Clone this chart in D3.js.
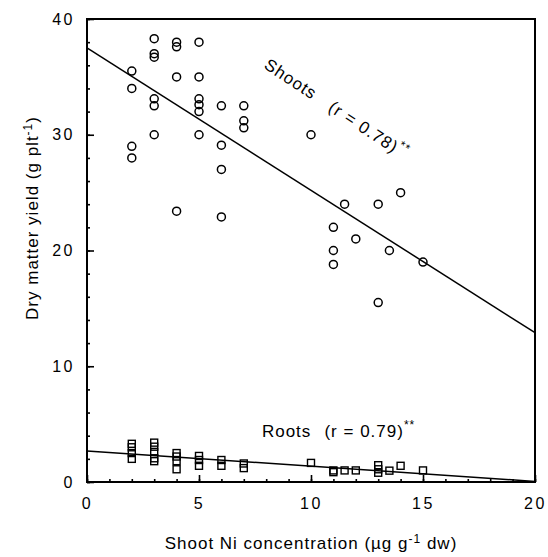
<!DOCTYPE html>
<html lang="en">
<head>
  <meta charset="UTF-8">
  <title>Dry matter yield vs shoot Ni</title>
  <script src="https://d3js.org/d3.v7.min.js"></script>
  <style>
    body { margin: 0; background: #fff; }
    text { font-family: "Liberation Sans", Arial, sans-serif; fill: #000; }
    .tick-label { font-size: 16px; letter-spacing: 2.5px; }
    .axis-title { font-size: 17px; letter-spacing: 1px; }
    .series-label { font-size: 17px; letter-spacing: 1px; }
  </style>
</head>
<body>
  <div id="chart"></div>
  <script>
    // shoots (circles)
    const shootX = [2, 2, 2, 2, 3, 3, 3, 3, 3, 3, 4, 4, 4, 4, 5, 5, 5, 5, 5, 5, 6, 6, 6, 6, 7, 7, 7, 10,
                    11, 11, 11, 11.5, 12, 13, 13, 13.5, 14, 15];
    const shootY = [35.5, 34, 29, 28, 38.3, 37, 36.7, 33.1, 32.5, 30, 38, 37.6, 35, 23.4, 38, 35, 33.1, 32.6, 32, 30,
                    32.5, 29.1, 27, 22.9, 32.5, 31.2, 30.6, 30,
                    22, 20, 18.8, 24, 21, 24, 15.5, 20, 25, 19];
    // roots (squares)
    const rootX = [2, 2, 2, 2, 3, 3, 3, 3, 3, 4, 4, 4, 4, 5, 5, 5, 6, 6, 7, 7, 10,
                   11, 11, 11.5, 12, 13, 13, 13, 13.5, 14, 15];
    const rootY = [3.3, 3.0, 2.5, 2.0, 3.4, 3.05, 2.6, 2.05, 1.8, 2.5, 2.2, 1.8, 1.1, 2.25, 1.9, 1.4, 1.9, 1.4, 1.6, 1.2, 1.65,
                   1.0, 0.85, 1.0, 1.0, 1.45, 1.1, 0.8, 0.98, 1.4, 1.0];
    // fitted lines, value at x = 0 and x = 20
    const shootFit = [37.5, 12.9];
    const rootFit = [2.68, 0.05];

    const xTicks = [0, 5, 10, 15, 20];
    const yTicks = [0, 10, 20, 30, 40];

    const width = 548, height = 557;
    const margin = { top: 19, right: 13, bottom: 75, left: 87 };

    const svg = d3.select("#chart").append("svg")
      .attr("width", width)
      .attr("height", height);

    const x = d3.scaleLinear().domain([0, 20]).range([margin.left, width - margin.right]);
    const y = d3.scaleLinear().domain([0, 40]).range([height - margin.bottom, margin.top]);

    // frame
    svg.append("rect")
      .attr("x", x(0)).attr("y", y(40))
      .attr("width", x(20) - x(0)).attr("height", y(0) - y(40))
      .attr("fill", "none").attr("stroke", "#000").attr("stroke-width", 2);

    // ticks point inward
    svg.append("g")
      .attr("transform", `translate(0,${y(0)})`)
      .call(d3.axisBottom(x).tickValues(d3.range(0, 21, 1)).tickSize(-3).tickFormat(""))
      .call(g => g.select(".domain").remove());
    svg.append("g")
      .attr("transform", `translate(0,${y(0)})`)
      .call(d3.axisBottom(x).tickValues(xTicks).tickSize(-7).tickPadding(16))
      .call(g => g.select(".domain").remove())
      .call(g => g.selectAll("text").attr("class", "tick-label").attr("font-size", null).attr("font-family", null));

    svg.append("g")
      .attr("transform", `translate(${x(0)},0)`)
      .call(d3.axisLeft(y).tickValues(d3.range(0, 41, 2)).tickSize(-3).tickFormat(""))
      .call(g => g.select(".domain").remove());
    svg.append("g")
      .attr("transform", `translate(${x(0)},0)`)
      .call(d3.axisLeft(y).tickValues(yTicks).tickSize(-7).tickPadding(12))
      .call(g => g.select(".domain").remove())
      .call(g => g.selectAll("text").attr("class", "tick-label").attr("font-size", null).attr("font-family", null));

    svg.selectAll(".tick line").attr("stroke-width", 1.6);

    // regression lines
    const fitLine = d3.line().x(d => x(d[0])).y(d => y(d[1]));
    [shootFit, rootFit].forEach(f => {
      svg.append("path")
        .attr("d", fitLine([[0, f[0]], [20, f[1]]]))
        .attr("fill", "none").attr("stroke", "#000").attr("stroke-width", 1.5);
    });

    // shoot circles
    svg.append("g").selectAll("circle")
      .data(shootX.map((v, i) => [v, shootY[i]]))
      .join("circle")
      .attr("cx", d => x(d[0])).attr("cy", d => y(d[1]))
      .attr("r", 4)
      .attr("fill", "none").attr("stroke", "#000").attr("stroke-width", 1.5);

    // root squares
    const s = 7;
    svg.append("g").selectAll("rect")
      .data(rootX.map((v, i) => [v, rootY[i]]))
      .join("rect")
      .attr("x", d => x(d[0]) - s / 2).attr("y", d => y(d[1]) - s / 2)
      .attr("width", s).attr("height", s)
      .attr("fill", "none").attr("stroke", "#000").attr("stroke-width", 1.4);

    // series labels
    const angle = Math.atan2(y(shootFit[1]) - y(shootFit[0]), x(20) - x(0)) * 180 / Math.PI;
    const sl = svg.append("text")
      .attr("class", "series-label")
      .attr("transform", `translate(${x(7.86)},${y(35.8)}) rotate(${angle + 1})`);
    sl.append("tspan").text("Shoots");
    sl.append("tspan").attr("dx", 18).text("(r = 0.78)");
    sl.append("tspan").attr("dy", -8).attr("font-size", 12).text("**");

    const rl = svg.append("text")
      .attr("class", "series-label")
      .attr("x", x(7.81)).attr("y", y(3.89));
    rl.append("tspan").text("Roots");
    rl.append("tspan").attr("x", x(10.6)).text("(r = 0.79)");
    rl.append("tspan").attr("dy", -8).attr("font-size", 12).text("**");

    // axis titles
    const xt = svg.append("text")
      .attr("class", "axis-title")
      .attr("text-anchor", "middle")
      .attr("x", (x(0) + x(20)) / 2).attr("y", 549);
    xt.append("tspan").text("Shoot Ni concentration  (\u00b5g g");
    xt.append("tspan").attr("dy", -6).attr("font-size", 12).text("-1");
    xt.append("tspan").attr("dy", 6).text(" dw)");

    const yt = svg.append("text")
      .attr("class", "axis-title")
      .attr("text-anchor", "middle")
      .attr("transform", `translate(38,218) rotate(-90)`);
    yt.append("tspan").text("Dry matter yield  (g plt");
    yt.append("tspan").attr("dy", -6).attr("font-size", 12).text("-1");
    yt.append("tspan").attr("dy", 6).text(")");
  </script>
</body>
</html>
